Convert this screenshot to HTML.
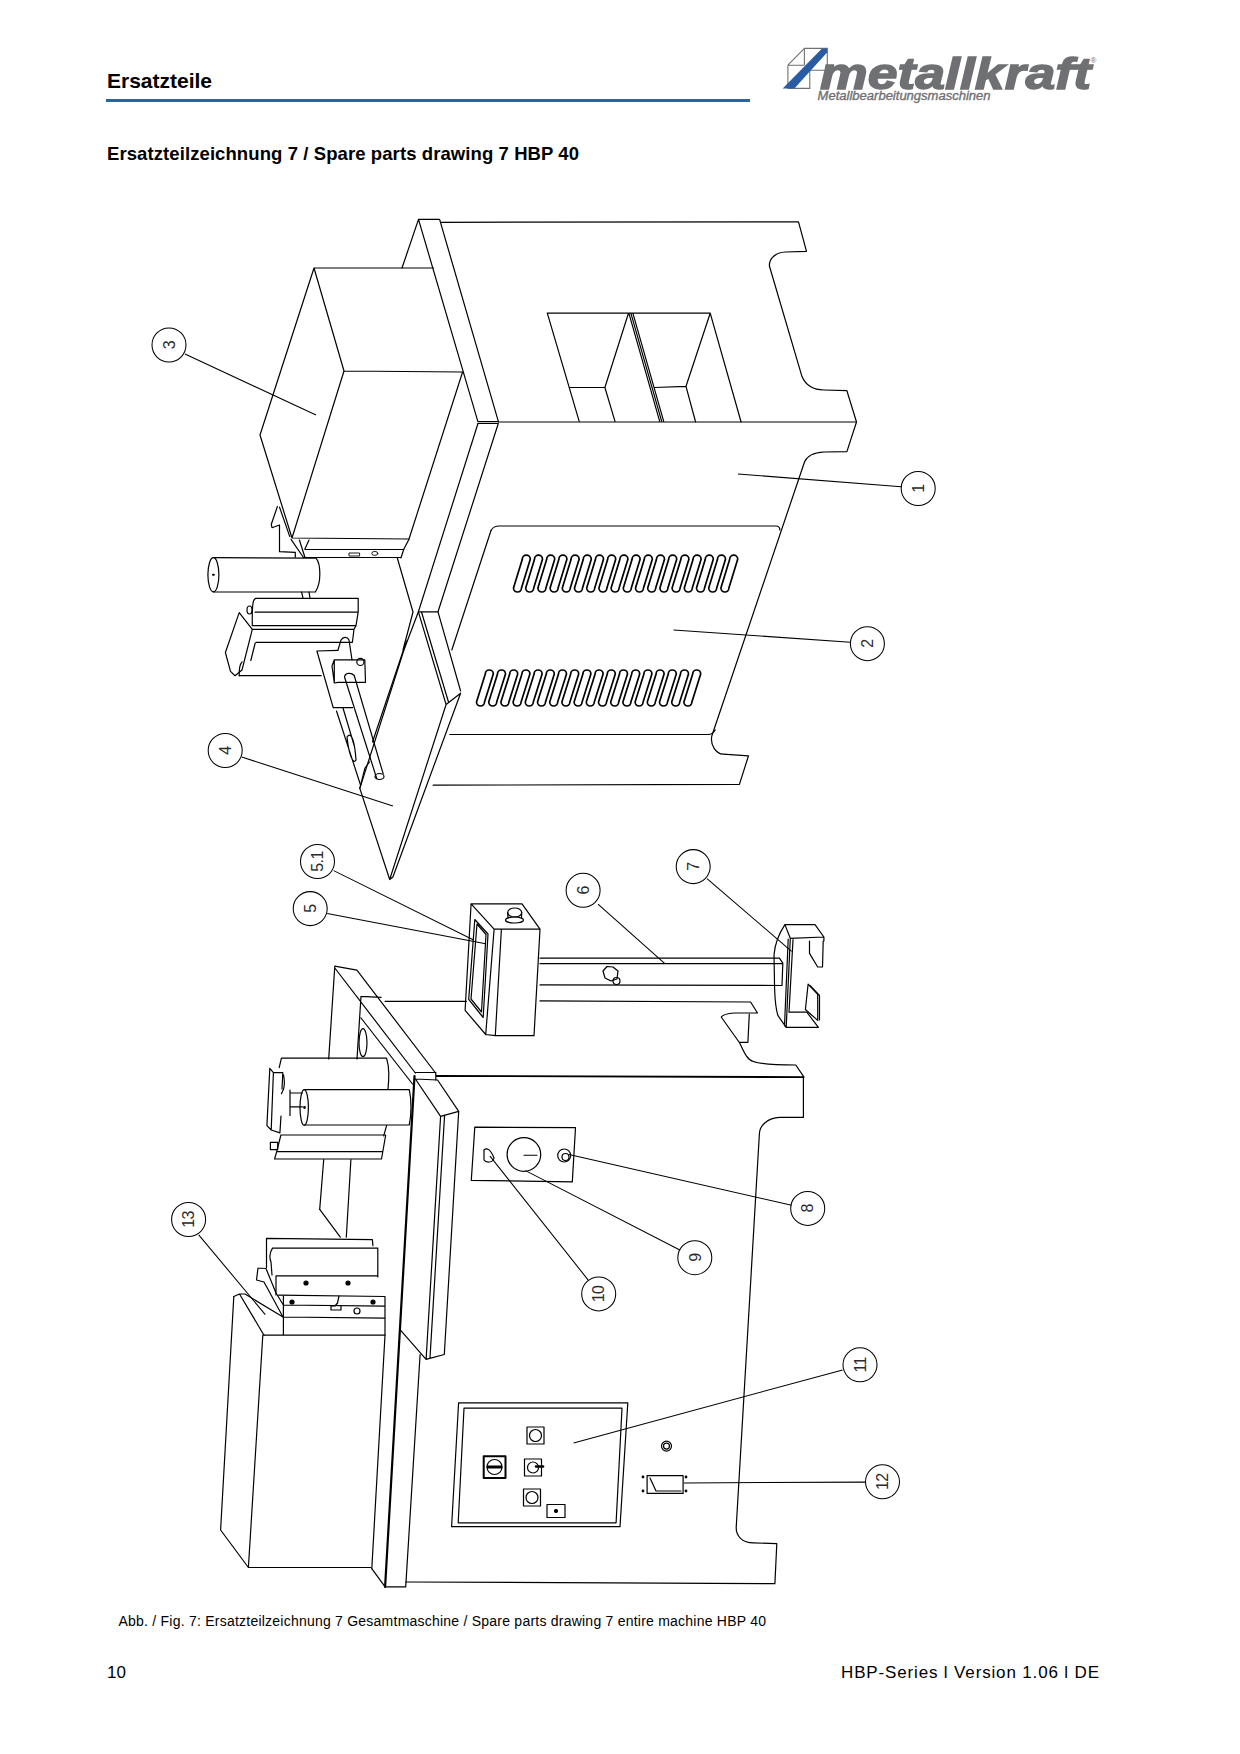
<!DOCTYPE html>
<html><head><meta charset="utf-8">
<style>
html,body{margin:0;padding:0;background:#fff;}
body{width:1240px;height:1754px;position:relative;overflow:hidden;font-family:"Liberation Sans",sans-serif;color:#000;}
.t{position:absolute;white-space:nowrap;line-height:1;}
#h1{left:107px;top:70px;font-size:21px;font-weight:bold;}
#bar{position:absolute;left:106px;top:99px;width:644px;height:3px;background:#2566a6;}
#h2{left:107px;top:144.5px;font-size:18.5px;letter-spacing:0.09px;font-weight:bold;}
#cap{left:118.5px;top:1614px;font-size:14px;letter-spacing:0.23px;}
#pn{left:107px;top:1663.5px;font-size:17px;}
#ver{left:841px;top:1664px;font-size:17px;letter-spacing:0.85px;}
svg{position:absolute;left:0;top:0;}
</style></head>
<body>
<div class="t m" id="h1">Ersatzteile</div>
<div id="bar"></div>
<div class="t m" id="h2">Ersatzteilzeichnung 7 / Spare parts drawing 7 HBP 40</div>
<div class="t m" id="cap">Abb. / Fig. 7: Ersatzteilzeichnung 7 Gesamtmaschine / Spare parts drawing 7 entire machine HBP 40</div>
<div class="t m" id="pn">10</div>
<div class="t m" id="ver">HBP-Series l Version 1.06 l DE</div>
<svg width="1240" height="1754" viewBox="0 0 1240 1754">
<g id="logo">
<g fill="none" stroke="#6f7073" stroke-width="1.1">
<path d="M804.4,48.4H827.3V70.3H809.8M804.4,48.4V65.2M787.9,65.2H804.4M787.9,65.2V88.4H809.8V70.3M804.4,48.4L787.9,65.2"/>
</g>
<path d="M782.7,88.4L794.4,88.4L827.3,52.2L827.3,48.4L822,48.4Z" fill="#2a5ca6"/>
<text x="820" y="88.5" font-family="Liberation Sans" font-weight="bold" font-style="italic" font-size="44" fill="#6f7073" stroke="#6f7073" stroke-width="1.4" textLength="271" lengthAdjust="spacingAndGlyphs">metallkraft</text>
<text x="817.6" y="100.4" font-family="Liberation Sans" font-style="italic" font-size="12.5" stroke="#6f7073" stroke-width="0.35" fill="#6f7073" textLength="173" lengthAdjust="spacingAndGlyphs">Metallbearbeitungsmaschinen</text>
<text x="1090.5" y="63" font-family="Liberation Sans" font-size="8" fill="#6f7073">®</text>
</g>

<g id="draw" fill="none" stroke="#000" stroke-width="1.2" stroke-linejoin="round" stroke-linecap="round">
<!-- Box 3 -->
<path d="M314,268L433.5,268M314,268L344,371L462.6,372M314,268L260,435L292,538L409,539M344,371L292,538M462.6,372L409,539"/>
<path d="M409,539.2L403.9,549L400.9,558M304.9,549.5H403.9M303.5,557.5H400.9M291,539.4L303.5,557.5M299.4,540L304.9,557.2M309,540L304.9,549"/>
<path d="M349.4,553H359.6V556H349.4Z" stroke-width="0.9"/>
<ellipse cx="374.8" cy="553.4" rx="3" ry="2" stroke-width="0.9"/>
<!-- little tab left of box3 base -->
<path d="M277.4,506.5L271.3,524.3L272,527.7L279.5,525V551.7L295.3,552.4V557.2M279.5,507.1L289.8,536.6"/>
<!-- Main upper frame plate -->
<path d="M418.5,219.4L439.6,219.4L498.4,421.6L477.9,421.6ZM418.5,219.4L402,268M477.9,423.5H498.2"/>
<!-- top edge & right profile -->
<path d="M440.8,222.3L798.5,221.8L806.5,251.3L785.2,252C776,252.5 769,258 769.4,266L802,376.6C806,386 814,390 824,390L846.9,390.7L856.5,422L846.9,451.6L824,452C814,452.5 807,456 804.5,462L711.8,736C710,745 716,754 723.3,754.2L748.5,755.8L739.4,784.4L433.2,785.2"/>
<path d="M498.4,422H856.5"/>
<!-- hoppers -->
<path d="M547.3,313.2H710.2M547.3,313.2L579.2,421.4M628.3,313.7L604.9,387.5L615,421.4M570.3,387.5H604.9M629,313.7L659.7,421.4M631,313.7L661.7,421.4M633,313.7L663.7,421.4M710.2,313.2L741.1,422M710.2,313.2L686,386.3L695.6,422M654.5,387.5L686,386.3"/>
<!-- frame lower-left edges -->
<path d="M477.9,423.8L418.4,611.8L403.9,650M498.2,423.8L438,611.8"/>
<path d="M397.3,558L413,612L403,650"/>
<!-- panel 2 -->
<path d="M491,530.5C493,527 495,526 499,526H776C779,526 780,528 779.7,530"/>
<path d="M491,530.5L451.8,650"/>
<path d="M715.2,730C713,734 711,734.5 708,734.5H449.7"/>
<!-- plate 4 -->
<path d="M418.4,611.8H438M418.4,611.8L446.1,704.5M421.5,612L448.5,702M438,611.8L460.6,691M446.1,704.5L460.6,693.2M446.1,704.5L389.7,879.5M460.6,693.2L392.9,877M389.7,879.5L392.9,877M403.9,650L359.8,788.4L389.7,879.5"/>
<!-- main frame left edge lower -->
<path d="M406.5,641L372.5,742"/>

<!-- slots -->
<g stroke-width="1.7">
<path d="M513.5,588.0L522.3,559.2A4.0,4.0 0 0 1 530.3,559.2L521.5,588.0A4.0,4.0 0 0 1 513.5,588.0Z"/>
<path d="M525.7,588.0L534.5,559.2A4.0,4.0 0 0 1 542.5,559.2L533.7,588.0A4.0,4.0 0 0 1 525.7,588.0Z"/>
<path d="M537.9,588.0L546.7,559.2A4.0,4.0 0 0 1 554.7,559.2L545.9,588.0A4.0,4.0 0 0 1 537.9,588.0Z"/>
<path d="M550.1,588.0L558.9,559.2A4.0,4.0 0 0 1 566.9,559.2L558.1,588.0A4.0,4.0 0 0 1 550.1,588.0Z"/>
<path d="M562.3,588.0L571.1,559.2A4.0,4.0 0 0 1 579.1,559.2L570.3,588.0A4.0,4.0 0 0 1 562.3,588.0Z"/>
<path d="M574.5,588.0L583.3,559.2A4.0,4.0 0 0 1 591.3,559.2L582.5,588.0A4.0,4.0 0 0 1 574.5,588.0Z"/>
<path d="M586.7,588.0L595.5,559.2A4.0,4.0 0 0 1 603.5,559.2L594.7,588.0A4.0,4.0 0 0 1 586.7,588.0Z"/>
<path d="M598.9,588.0L607.7,559.2A4.0,4.0 0 0 1 615.7,559.2L606.9,588.0A4.0,4.0 0 0 1 598.9,588.0Z"/>
<path d="M611.1,588.0L619.9,559.2A4.0,4.0 0 0 1 627.9,559.2L619.1,588.0A4.0,4.0 0 0 1 611.1,588.0Z"/>
<path d="M623.3,588.0L632.1,559.2A4.0,4.0 0 0 1 640.1,559.2L631.3,588.0A4.0,4.0 0 0 1 623.3,588.0Z"/>
<path d="M635.5,588.0L644.3,559.2A4.0,4.0 0 0 1 652.3,559.2L643.5,588.0A4.0,4.0 0 0 1 635.5,588.0Z"/>
<path d="M647.7,588.0L656.5,559.2A4.0,4.0 0 0 1 664.5,559.2L655.7,588.0A4.0,4.0 0 0 1 647.7,588.0Z"/>
<path d="M659.9,588.0L668.7,559.2A4.0,4.0 0 0 1 676.7,559.2L667.9,588.0A4.0,4.0 0 0 1 659.9,588.0Z"/>
<path d="M672.1,588.0L680.9,559.2A4.0,4.0 0 0 1 688.9,559.2L680.1,588.0A4.0,4.0 0 0 1 672.1,588.0Z"/>
<path d="M684.3,588.0L693.1,559.2A4.0,4.0 0 0 1 701.1,559.2L692.3,588.0A4.0,4.0 0 0 1 684.3,588.0Z"/>
<path d="M696.5,588.0L705.3,559.2A4.0,4.0 0 0 1 713.3,559.2L704.5,588.0A4.0,4.0 0 0 1 696.5,588.0Z"/>
<path d="M708.7,588.0L717.5,559.2A4.0,4.0 0 0 1 725.5,559.2L716.7,588.0A4.0,4.0 0 0 1 708.7,588.0Z"/>
<path d="M720.9,588.0L729.7,559.2A4.0,4.0 0 0 1 737.7,559.2L728.9,588.0A4.0,4.0 0 0 1 720.9,588.0Z"/>
<path d="M476.5,702.0L485.3,674.0A4.0,4.0 0 0 1 493.3,674.0L484.5,702.0A4.0,4.0 0 0 1 476.5,702.0Z"/>
<path d="M488.7,702.0L497.5,674.0A4.0,4.0 0 0 1 505.5,674.0L496.7,702.0A4.0,4.0 0 0 1 488.7,702.0Z"/>
<path d="M500.9,702.0L509.7,674.0A4.0,4.0 0 0 1 517.7,674.0L508.9,702.0A4.0,4.0 0 0 1 500.9,702.0Z"/>
<path d="M513.1,702.0L521.9,674.0A4.0,4.0 0 0 1 529.9,674.0L521.1,702.0A4.0,4.0 0 0 1 513.1,702.0Z"/>
<path d="M525.3,702.0L534.1,674.0A4.0,4.0 0 0 1 542.1,674.0L533.3,702.0A4.0,4.0 0 0 1 525.3,702.0Z"/>
<path d="M537.5,702.0L546.3,674.0A4.0,4.0 0 0 1 554.3,674.0L545.5,702.0A4.0,4.0 0 0 1 537.5,702.0Z"/>
<path d="M549.7,702.0L558.5,674.0A4.0,4.0 0 0 1 566.5,674.0L557.7,702.0A4.0,4.0 0 0 1 549.7,702.0Z"/>
<path d="M561.9,702.0L570.7,674.0A4.0,4.0 0 0 1 578.7,674.0L569.9,702.0A4.0,4.0 0 0 1 561.9,702.0Z"/>
<path d="M574.1,702.0L582.9,674.0A4.0,4.0 0 0 1 590.9,674.0L582.1,702.0A4.0,4.0 0 0 1 574.1,702.0Z"/>
<path d="M586.3,702.0L595.1,674.0A4.0,4.0 0 0 1 603.1,674.0L594.3,702.0A4.0,4.0 0 0 1 586.3,702.0Z"/>
<path d="M598.5,702.0L607.3,674.0A4.0,4.0 0 0 1 615.3,674.0L606.5,702.0A4.0,4.0 0 0 1 598.5,702.0Z"/>
<path d="M610.7,702.0L619.5,674.0A4.0,4.0 0 0 1 627.5,674.0L618.7,702.0A4.0,4.0 0 0 1 610.7,702.0Z"/>
<path d="M622.9,702.0L631.7,674.0A4.0,4.0 0 0 1 639.7,674.0L630.9,702.0A4.0,4.0 0 0 1 622.9,702.0Z"/>
<path d="M635.1,702.0L643.9,674.0A4.0,4.0 0 0 1 651.9,674.0L643.1,702.0A4.0,4.0 0 0 1 635.1,702.0Z"/>
<path d="M647.3,702.0L656.1,674.0A4.0,4.0 0 0 1 664.1,674.0L655.3,702.0A4.0,4.0 0 0 1 647.3,702.0Z"/>
<path d="M659.5,702.0L668.3,674.0A4.0,4.0 0 0 1 676.3,674.0L667.5,702.0A4.0,4.0 0 0 1 659.5,702.0Z"/>
<path d="M671.7,702.0L680.5,674.0A4.0,4.0 0 0 1 688.5,674.0L679.7,702.0A4.0,4.0 0 0 1 671.7,702.0Z"/>
<path d="M683.9,702.0L692.7,674.0A4.0,4.0 0 0 1 700.7,674.0L691.9,702.0A4.0,4.0 0 0 1 683.9,702.0Z"/>
</g>
<!-- cylinder upper -->
<ellipse cx="213.4" cy="574.8" rx="5.5" ry="17.1"/>
<path d="M213.4,557.7L316.1,558.1C319,562 320,569 319.8,574.8C319.8,581 318.5,587 315.4,592L213.4,592"/>
<path d="M213,574.8h0.8" stroke-width="2"/>
<path d="M301.6,592.2L303,598M309,592.2L310,598"/>
<!-- roller block -->
<path d="M255.9,598.4H358.2V611.9L356,625.6L354,629.3L352.4,642.3M255,612.1H357.5M252.3,625.6H356M252.3,629.3H354M255.9,642.3H352.4"/>
<path d="M255.9,598.4C253,599 252,603 252.3,625.6"/>
<path d="M255.2,643L250.8,660.5M239.2,675.7H321.2"/>
<path d="M239.2,612.6L252.3,629.3L242,670L235,675.7L230.5,671.4L225.4,652.5ZM239.2,612.6L225.4,652.5"/>
<path d="M242.1,661.9C240,664 239,668 239.2,675.7" />
<ellipse cx="249.5" cy="610" rx="2.5" ry="4"/>
<!-- bracket plate + rod block -->
<path d="M316.9,651L337.9,650.3M316.9,651L333.2,707.7H352.6"/>
<path d="M334.3,659.8H364.8L365.5,682.3H338L334.3,683ZM334.3,659.8L332,666L334.3,683"/>
<circle cx="360.4" cy="661.9" r="3.6"/>
<path d="M337.9,650.3L341,640C343,637 347,636 349,640L352,659.8"/>
<path d="M344.5,677L376.8,778.7M354.2,675.5L383.2,773.9M344.5,677C345,673 351,672 354.2,675.5"/>
<ellipse cx="379.5" cy="776.5" rx="4.5" ry="3"/>
<path d="M336.5,711L360.6,785.2M343,708L354,745M347,737C352,730 355,745 356,760C353,765 349,755 347,737Z"/>
<path d="M359.8,788.4L365,768L369.5,762"/>
<!-- pendant 5 -->
<path d="M471.1,903.8H522L540,929.2H494.1ZM471.1,903.8L465.1,1010.3L485.7,1034.5L494.1,929.2M501.4,929.2L495.3,1035.7H534L540,929.2M485.7,1034.5L495.3,1035.7"/>
<path d="M474.8,919.5L488,934L483.2,1017.5L468.7,999.4ZM477,924L486,934.5L481.5,1012L471,999Z"/>
<ellipse cx="514.7" cy="912.5" rx="7" ry="4.5"/>
<ellipse cx="514.5" cy="920" rx="9" ry="3"/>
<path d="M507.7,912.5L508,918M521.7,912.5L521.5,918"/>
<!-- arm 6 -->
<path d="M540,958.2H779.4L782.8,963.2M540,963.6H782.8L782,985.5L540,984.9"/>
<path d="M603,971L607,966.5L613,967L618,971L617,979L611,981L605,978Z"/>
<circle cx="616.5" cy="981" r="3.5"/>
<!-- bracket 7 -->
<path d="M784.9,924.6H815L823.9,937L790.3,938.3ZM784.9,924.6C780,932 775,942 774,955L774.6,989C775,1000 776,1010 778,1015.7L786.2,1027.3H818.4L806.8,1012.2H789L793,939.7M790.3,938.3L786.2,1027.3M788.2,939L784.5,1026M823.9,937V941"/>
<path d="M809.5,941V953.4L817.7,967H822.5L823.2,941M808.1,984.2L817.7,994.4V1020.4L805.4,1009.5ZM810,985.5L819.5,995.5V1020"/>
<!-- lower frame back plate & slanted plate -->
<path d="M334.8,966.1L356.9,970.2M334.8,966.1L328.7,1058.9M323.7,1159.7L319.7,1209.4L340.3,1237.2M334.8,968L415.4,1073M356.9,970.2L435.6,1073M361,996.4L381,997.4M361,996.4L357,1058.9M350.9,1159.7L346.3,1237.2M361,1018L412.5,1084"/>
<path d="M385.2,1001.4H466.3M540,1000.9L750.6,1002L757.5,1013H734.2C728,1013.5 723,1014.5 721.2,1017L739.7,1043C744,1052 747,1060 753.4,1061.5C760,1064 775,1065 795.8,1065L804,1077.2M749.3,1014.3L747.9,1042.3H739.7"/>
<path d="M436.6,1076L802.9,1077.1" stroke-width="1.8"/>
<path d="M803.4,1077.1V1117.4H779.4C768,1118 760,1125 759.4,1133.5L736.2,1527.4C736,1536 742,1542.9 753.6,1542.9L776.8,1543.7L774.9,1583.6L405.7,1582"/>
<!-- lower frame left plate -->
<path d="M415.4,1079L437.6,1080L458.7,1111.3L440.6,1116.3ZM415.4,1079L440.6,1116.3M458.7,1111.3L444.3,1354.5L426.1,1359.4M440.6,1116.3L426.1,1359.4M444.6,1115L430,1358M400.7,1330.3L426.1,1359.4"/>
<path d="M414.5,1076L385.1,1586.9" stroke-width="2.2"/>
<path d="M420.1,1354.5L405.7,1586.9M371.8,1568.7L385.1,1586.9H405.7M415.3,1072.5H435.8V1080"/>
<!-- rollers -->
<path d="M281.4,1058.1H386.6C388,1063 388.8,1068 388.8,1073.4C388.8,1079 388.5,1084 388,1089.3M386.6,1125.6L383.7,1135.8M281.4,1058.1L279.2,1067.6M283.5,1074.8C284.5,1080 284.5,1086 283.5,1089.3L281.4,1093.7"/>
<ellipse cx="304.2" cy="1107.5" rx="4.2" ry="17.8"/>
<path d="M304.2,1089.7H409.3C410.5,1095 411,1101 411,1107.5C411,1113 410.5,1119 409.3,1125H304.2"/>
<circle cx="304.5" cy="1107.5" r="0.8"/>
<path d="M290,1093H302.4M290,1106.8H302.4M290,1090V1115.5"/>
<path d="M269.8,1068.3L273.4,1072.7H282.8M269.8,1068.3L266.9,1125.6L271.2,1130L279.9,1132.9M273.4,1072.7L271.2,1130M282.8,1072.7L282,1089M281,1116L279.9,1132.9"/>
<path d="M280.9,1135H385.7L381.5,1159L274.6,1159L276.7,1151.7H382.6M280.9,1135L276.7,1151.7"/>
<path d="M270.4,1142.3H277.7V1149.6H270.4Z"/>
<ellipse cx="363" cy="1042.7" rx="4" ry="14"/>
<!-- tool 13 -->
<path d="M266.5,1238.4L372.4,1239.6L372.9,1245.6M266.5,1238.4V1267.4M272.5,1248.1H377.8V1277M272.5,1248.1C270,1252 269,1258 271,1262L272,1275M276.1,1275.9H377.8M278.6,1295.2L385,1296.5V1335.2M283.4,1305L385,1306.2M283.4,1317L385,1318.2M264,1335.2H385M276,1276V1295M283.4,1295V1335"/>
<path d="M258,1268L266,1268.5L276,1293L283.4,1305M258,1268L256.5,1280L264,1282L283,1317M239.5,1294L264,1335.2M233.8,1296.5L239.5,1294H245L283,1317"/>
<path d="M339,1296L337.5,1303L335,1306L331,1306L331,1310L341,1310L341,1306"/>
<circle cx="357" cy="1311" r="3"/>
<circle cx="306" cy="1283" r="2" fill="#000"/><circle cx="348" cy="1283" r="2" fill="#000"/>
<circle cx="292" cy="1302" r="2" fill="#000"/><circle cx="373" cy="1302" r="2" fill="#000"/>
<!-- stand box -->
<path d="M233.8,1296.5L220.6,1530L248.4,1567.5H370.6M262.8,1335.2L248.4,1567.5M385,1335.2L371.8,1568.7"/>
<!-- misc frame lines upper left of tool -->
<path d="M319.7,1209.4V1209.4"/>
<!-- switch plate 8 9 10 -->
<path d="M474.8,1127.1L575.5,1127.7L572.3,1181.9L471.3,1180.3Z"/>
<circle cx="523.9" cy="1154.5" r="16.8"/>
<path d="M524,1155.3H537" stroke-width="1.1"/>
<path d="M484,1150C487,1147 491,1150 494,1158C493,1163 486,1163 484,1160Z"/>
<circle cx="564.2" cy="1155.5" r="6.5"/><circle cx="565.5" cy="1157" r="3.5"/>
<!-- control panel 11 -->
<path d="M458.6,1402.8H627.8L620,1526.7H451.6ZM464,1408.2H622L616.1,1522.8H458.2Z"/>
<path d="M527,1427H544V1444H527ZM524.5,1459H541.5V1476H524.5ZM523.5,1489H540.5V1506H523.5ZM547,1504.5H565V1517.5H547Z"/>
<circle cx="535.5" cy="1435.5" r="6"/><circle cx="533" cy="1467.5" r="5.5"/><circle cx="532" cy="1497.5" r="6"/>
<path d="M536,1466.5H543" stroke-width="2.5"/>
<circle cx="556" cy="1511" r="1.5" fill="#000"/>
<path d="M483.7,1456.2H505.5V1478H483.7Z" stroke-width="2"/>
<circle cx="494.5" cy="1467" r="7.5"/><path d="M488,1467H501" stroke-width="3"/>
<circle cx="666.5" cy="1446.1" r="5"/><circle cx="666.5" cy="1446.1" r="3"/>
<path d="M647.1,1475.6H683.1V1493.4H647.1ZM650,1478L656,1491H681" />
<circle cx="643" cy="1477" r="0.8"/><circle cx="643" cy="1491" r="0.8"/><circle cx="686" cy="1477" r="0.8"/><circle cx="686" cy="1491" r="0.8"/>

</g>
<g fill="none" stroke="#000" stroke-width="1.05">
<circle cx="169" cy="345" r="17"/>
<circle cx="918.2" cy="488.5" r="17"/>
<circle cx="867.4" cy="643.7" r="17"/>
<circle cx="225.2" cy="750.5" r="17"/>
<circle cx="317.5" cy="861.5" r="17"/>
<circle cx="310.2" cy="908.6" r="17"/>
<circle cx="583.1" cy="890.3" r="17"/>
<circle cx="693.2" cy="866.6" r="17"/>
<circle cx="807.7" cy="1208.4" r="17"/>
<circle cx="694.8" cy="1257.7" r="17"/>
<circle cx="598.7" cy="1293.9" r="17"/>
<circle cx="188.6" cy="1219.5" r="17"/>
<circle cx="860" cy="1364.8" r="17"/>
<circle cx="882.5" cy="1481.8" r="17"/>
<path d="M185,354L316,415M738,474L901.3,486.7M673.5,630L850.5,642.3M241.7,757L392.9,806.1M333.7,870.6L473.6,940M327.2,913.5L485.7,943.7M598,904.1L664.6,963.4M707,878.7L791.6,951.3M569,1154.5L791.6,1205.2M525.5,1170.6L680.3,1250.3M490,1156.1L588.4,1280.3M198.7,1234.8L265.3,1314.6M573.6,1443L842.6,1369.9M683.9,1482.9L865.9,1482.1"/>
</g>
<g font-family="Liberation Sans" font-size="16" fill="#2a2a2a" text-anchor="middle" letter-spacing="-0.6">
<text transform="translate(169,345) rotate(-90)" y="5.7">3</text>
<text transform="translate(918.2,488.5) rotate(-90)" y="5.7">1</text>
<text transform="translate(867.4,643.7) rotate(-90)" y="5.7">2</text>
<text transform="translate(225.2,750.5) rotate(-90)" y="5.7">4</text>
<text transform="translate(317.5,861.5) rotate(-90)" y="5.7">5.1</text>
<text transform="translate(310.2,908.6) rotate(-90)" y="5.7">5</text>
<text transform="translate(583.1,890.3) rotate(-90)" y="5.7">6</text>
<text transform="translate(693.2,866.6) rotate(-90)" y="5.7">7</text>
<text transform="translate(807.7,1208.4) rotate(-90)" y="5.7">8</text>
<text transform="translate(694.8,1257.7) rotate(-90)" y="5.7">9</text>
<text transform="translate(598.7,1293.9) rotate(-90)" y="5.7">10</text>
<text transform="translate(188.6,1219.5) rotate(-90)" y="5.7">13</text>
<text transform="translate(860,1364.8) rotate(-90)" y="5.7">11</text>
<text transform="translate(882.5,1481.8) rotate(-90)" y="5.7">12</text>
</g>
</svg>
</body></html>
